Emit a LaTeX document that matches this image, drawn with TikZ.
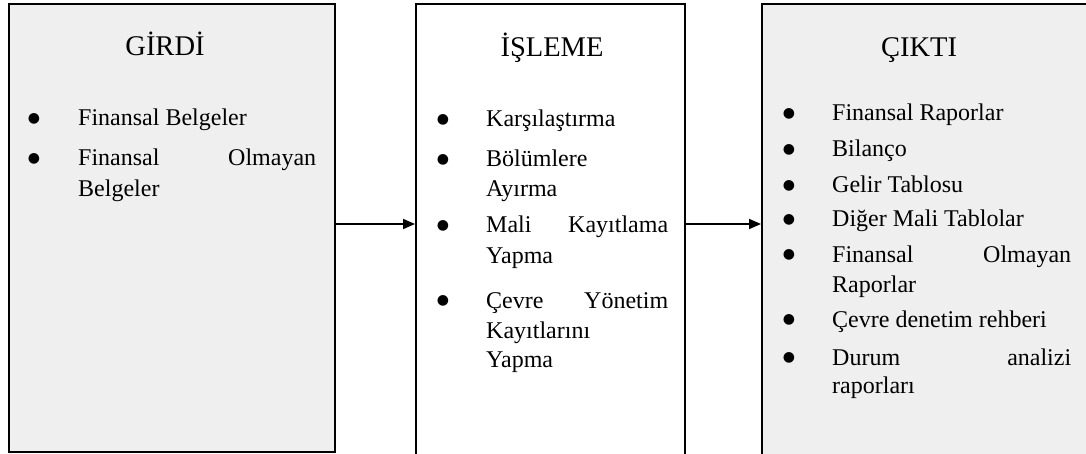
\documentclass[tikz,border=0pt]{standalone}
\usepackage{fontspec}
\setmainfont{Liberation Serif}
\newfontfamily\symfont{DejaVu Sans}
\usetikzlibrary{arrows.meta}
\tikzset{
  grayfill/.style={draw=black, line width=2pt, fill=boxgray, inner sep=0pt},
  whitefill/.style={draw=black, line width=2pt, fill=white, inner sep=0pt},
  ttl/.style={anchor=base, inner sep=0pt, font=\fontsize{28.5}{34}\selectfont},
  ln/.style={anchor=base west, inner sep=0pt, font=\fontsize{24}{30}\selectfont},
  bul/.style={anchor=base, inner sep=0pt, yshift=3.5pt, font=\symfont\fontsize{14}{14}\selectfont},
  arr/.style={line width=1.8pt, -{Triangle[length=12pt,width=10pt]}}
}
\definecolor{boxgray}{HTML}{EFEFEF}
\newcommand{\bulmark}{●}
\begin{document}
\begin{tikzpicture}[x=1pt,y=-1pt]
\useasboundingbox (0,0) rectangle (1086,454);
\clip (0,0) rectangle (1086,454);
% boxes
\node[grayfill, minimum width=326pt, minimum height=448pt] (girdi) at (172,228) {};
\node[whitefill, minimum width=269pt, minimum height=451pt] (isleme) at (550.5,229.5) {};
\node[grayfill, minimum width=328pt, minimum height=451pt] (cikti) at (926,229.5) {};
% arrows
\draw[arr] ([yshift=4pt]girdi.east) -- ([yshift=4pt]girdi.east -| isleme.west);
\draw[arr] ([yshift=5.5pt]isleme.east) -- ([yshift=5.5pt]isleme.east -| cikti.west);
% titles
\node[ttl] (t1) at (165,56) {GİRDİ};
\node[ttl] (t2) at (552,57) {İŞLEME};
\node[ttl] (t3) at (919,57) {ÇIKTI};
% left box
\node[bul] (lb1) at (34,126) {\bulmark};
\node[ln] (la1) at (78,126) {Finansal Belgeler};
\node[bul] (lb2) at (34,166) {\bulmark};
\node[ln] (la2) at (78,166) {\makebox[238pt][s]{Finansal Olmayan}};
\node[ln] (la3) at (78,197) {Belgeler};
% middle box
\node[bul] (mb1) at (443,127) {\bulmark};
\node[ln] (ma1) at (486,127) {Karşılaştırma};
\node[bul] (mb2) at (443,167) {\bulmark};
\node[ln] (ma2) at (486,167) {Bölümlere};
\node[ln] (ma3) at (486,197) {Ayırma};
\node[bul] (mb3) at (443,233) {\bulmark};
\node[ln] (ma4) at (486,233) {\makebox[182pt][s]{Mali Kayıtlama}};
\node[ln] (ma5) at (486,263) {Yapma};
\node[bul] (mb4) at (443,308) {\bulmark};
\node[ln] (ma6) at (486,308) {\makebox[182pt][s]{Çevre Yönetim}};
\node[ln] (ma7) at (486,338) {Kayıtlarını};
\node[ln] (ma8) at (486,367) {Yapma};
% right box
\node[bul] (rb1) at (789,121) {\bulmark};
\node[ln] (ra1) at (832,121) {Finansal Raporlar};
\node[bul] (rb2) at (789,157) {\bulmark};
\node[ln] (ra2) at (832,157) {Bilanço};
\node[bul] (rb3) at (789,193) {\bulmark};
\node[ln] (ra3) at (832,193) {Gelir Tablosu};
\node[bul] (rb4) at (789,227) {\bulmark};
\node[ln] (ra4) at (832,227) {Diğer Mali Tablolar};
\node[bul] (rb5) at (789,262) {\bulmark};
\node[ln] (ra5) at (832,262) {\makebox[239pt][s]{Finansal Olmayan}};
\node[ln] (ra6) at (832,292) {Raporlar};
\node[bul] (rb6) at (789,327) {\bulmark};
\node[ln] (ra7) at (832,327) {Çevre denetim rehberi};
\node[bul] (rb7) at (789,365) {\bulmark};
\node[ln] (ra8) at (832,365) {\makebox[239pt][s]{Durum analizi}};
\node[ln] (ra9) at (832,393) {raporları};
\end{tikzpicture}
\end{document}
